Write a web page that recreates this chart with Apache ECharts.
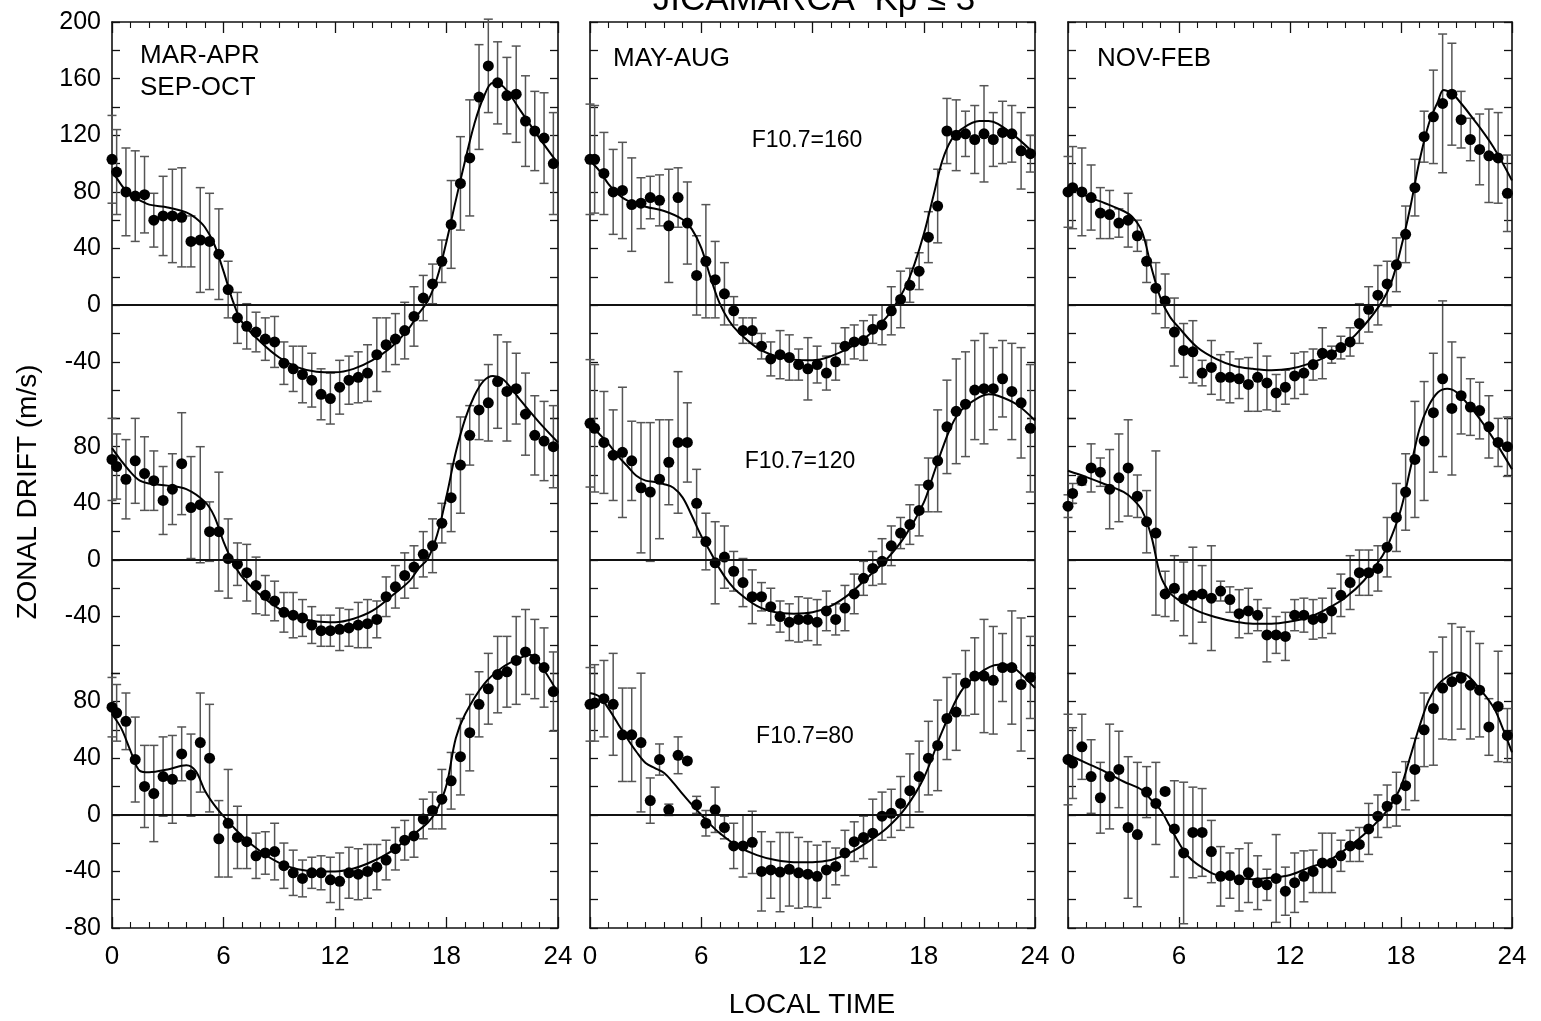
<!DOCTYPE html>
<html><head><meta charset="utf-8">
<script src="https://cdn.jsdelivr.net/npm/echarts@6/dist/echarts.min.js"></script>
<style>html,body{margin:0;padding:0;background:#fff}#c{width:1541px;height:1021px}</style>
</head><body><div id="c"></div>
<script>
// ---------- DATA ----------
const HOURS = [0,0.25,0.75,1.25,1.75,2.25,2.75,3.25,3.75,4.25,4.75,5.25,5.75,6.25,6.75,7.25,7.75,8.25,8.75,9.25,9.75,10.25,10.75,11.25,11.75,12.25,12.75,13.25,13.75,14.25,14.75,15.25,15.75,16.25,16.75,17.25,17.75,18.25,18.75,19.25,19.75,20.25,20.75,21.25,21.75,22.25,22.75,23.25,23.75];
const X_TICKS = [0,6,12,18,24];
const Y_LABELS_TOP = [-40,0,40,80,120,160,200];
const Y_LABELS_MID = [-40,0,40,80];
const Y_LABELS_BOT = [-80,-40,0,40,80];

// MAR-APR / SEP-OCT
const EQ_160 = [103,94,80,77,78,60,63,63,62,45,46,45,36,11,-9,-15,-19,-24,-26,-41,-45,-49,-53,-63,-66,-58,-53,-51,-48,-35,-28,-24,-18,-8,5,15,31,57,86,104,147,169,157,148,149,130,123,118,100];
const EQ_160_ERR = [31,30,31,32,27,19,28,33,35,18,37,34,32,20,18,16,14,15,18,15,16,20,19,18,18,19,17,18,20,26,19,18,20,21,16,14,15,31,33,41,37,33,29,27,34,32,28,32,36];
const EQ_160_FIT = [[0,95],[0.5,85],[1,77],[1.5,74],[2,71],[3,69],[4,65.5],[4.5,61.5],[5,55],[5.5,43],[6,24],[6.5,3],[7,-12],[8,-26],[9,-37],[10,-44],[11,-47],[12,-47.5],[13,-45],[14,-39],[15,-30],[16,-16],[16.5,-6],[17,3],[17.5,19.5],[18,45],[18.5,74],[19,102],[19.5,128],[20,147],[20.5,157],[21,155],[21.5,147],[22,137],[23,118],[24,100]];
const EQ_120 = [71,66,57,70,61,56,42,50,68,37,39,20,20,1,-3,-9,-18,-25,-29,-37,-39,-41,-46,-50,-50,-49,-48,-46,-45,-42,-26,-19,-11,-5,4,10,26,44,67,88,106,111,126,119,121,103,88,84,80];
const EQ_120_ERR = [29,23,28,30,26,21,24,25,36,36,41,21,42,28,15,20,20,14,14,14,16,13,13,11,11,15,13,16,17,13,14,15,16,15,16,19,14,24,34,21,21,27,33,35,25,29,28,28,29];
const EQ_120_FIT = [[0,79],[0.5,70],[1,62],[1.5,56],[2,54],[3,52.5],[4,50],[5,41],[5.5,31],[6,13],[6.5,-1.5],[7,-12],[8,-25],[9,-34.5],[10,-40.5],[11,-43.5],[12,-44],[13,-41.5],[14,-36],[15,-26],[16,-15],[16.5,-6],[17,1],[17.5,18],[18,45],[18.5,76],[19,99.5],[19.5,116],[20,126.5],[20.5,130],[21,128],[21.5,121],[22,112.5],[23,97],[24,83]];
const EQ_80 = [76,72,66,39,20,15,27,25,43,28,51,40,-17,-6,-16,-19,-29,-27,-26,-36,-41,-45,-41,-41,-46,-47,-41,-42,-40,-37,-32,-24,-18,-15,-3,3,11,24,41,58,78,89,99,101,109,115,110,104,87];
const EQ_80_ERR = [21,20,20,30,29,34,28,31,19,29,35,38,27,38,22,19,16,15,20,16,16,13,11,12,16,20,18,18,19,16,14,15,14,15,14,13,21,20,27,27,23,25,27,25,31,30,28,28,28];
const EQ_80_FIT = [[0,71],[0.5,61],[1,45],[1.5,31],[2,30],[3,32],[4,35],[4.5,31],[5,17],[5.5,7],[6,-1],[7,-15],[8,-26],[9,-34],[10,-38.5],[11,-40],[12,-40],[13,-38],[14,-33],[15,-26],[16,-16],[17,-5.5],[17.5,4],[18,21],[18.5,54],[19,71],[20,92],[21,104],[22,111],[22.5,113],[23,107],[24,86]];

// MAY-AUG
const JS_160 = [103,103,93,80,81,71,72,76,74,56,76,58,21,31,18,8,-4,-18,-18,-29,-38,-35,-37,-42,-45,-42,-48,-40,-29,-26,-25,-17,-14,-4,4,14,24,48,70,123,120,121,117,121,117,122,121,109,107];
const JS_160_ERR = [39,38,29,30,34,33,18,15,18,40,21,29,28,40,27,22,10,9,9,9,12,17,16,11,22,13,12,13,13,12,14,10,14,17,20,12,13,18,26,23,25,16,24,34,19,22,20,27,13];
const JS_160_FIT = [[0,102],[0.5,95],[1,85.5],[1.5,78.5],[2,74],[3,69.5],[4,66.5],[5,60.5],[5.5,53.5],[6,40.5],[6.5,19.5],[7,1],[7.5,-11],[8,-19],[9,-30],[10,-36],[11,-38.5],[12,-39],[13,-36],[14,-30],[15,-21.5],[16,-8.5],[16.5,1],[17,12.5],[17.5,29],[18,50],[18.5,76],[19,102],[19.5,117],[20,124],[21,130],[21.5,130],[22,128],[23,118.5],[24,106.5]];
const JS_120 = [96.5,93,83,74,76,70,51,48,57,69,83,83,40,13,-2,2,-8,-16,-26,-26,-33,-40,-44,-42,-42,-44,-36,-42,-34,-24,-13,-6,-1,10,19,25,35,53,70,94,105,110,120,121,121,128,119,111,93];
const JS_120_ERR = [45,45,36,32,46,28,46,49,42,30,50,28,24,20,29,22,14,17,19,10,13,11,13,16,15,16,14,11,16,14,12,12,16,14,11,14,18,19,36,33,37,37,35,39,29,27,34,39,45];
const JS_120_FIT = [[0,95],[0.5,89],[1,82],[1.5,73.5],[2,66.5],[2.5,59.5],[3,56],[3.5,55],[4,53.5],[4.5,51],[5,44],[5.5,31],[6,17],[6.5,5.5],[7,-6.5],[7.5,-16],[8,-23],[9,-32.5],[10,-37],[11,-38],[12,-37],[13,-32.5],[14,-24],[15,-12],[16,0.5],[17,17],[18,40.5],[18.5,59.5],[19,78.5],[19.5,95],[20,105.5],[21,115],[21.5,117],[22,116],[23,110],[24,98.5]];
const JS_80 = [78,79,82,78,56.5,56.5,51,10,39,3.5,42,38,7,-6,3.5,-9,-22,-22,-19.5,-40,-39,-40.5,-38.5,-41,-42,-43.5,-39,-36.5,-27,-19,-16,-13,-1,1,8,17,27,40,49,68,72.5,93,98,98,95,104,104,92,97];
const JS_80_ERR = [26,27,27,36,33,33,49,16,11,4,13,2,6,9,16,8,16,22,22,28,20,28,26,25,23,22,20,13,16,14,15,24,17,17,19,26,25,26,32,29,27,23,27,40,38,24,40,47,29];
const JS_80_FIT = [[0,86],[0.5,83.5],[1,75],[1.5,64.5],[2,54],[2.5,44.5],[3,36.5],[3.5,33],[4,29.5],[4.5,22.5],[5,14.5],[5.5,7],[6,0],[6.5,-7],[7,-13],[8,-22.5],[9,-28.5],[10,-32],[11,-33.5],[12,-33.5],[13,-32],[14,-27],[15,-19],[16,-9.5],[17,4.5],[18,26],[19,59],[20,87],[21,100],[22,106],[22.5,106],[23,102.5],[24,89.5]];

// NOV-FEB
const DS_160 = [80,83,80,76,65,64,58,60,49,31,12,3,-19,-32,-33,-48,-44,-51,-51,-52,-56,-51,-55,-62,-58,-50,-48,-42,-34,-35,-30,-26,-13,-3,7,15,28.5,50,83,119,133,142.5,149,131,117,110,105.5,104,79];
const DS_160_ERR = [25,29,31,23,18,17,10,19,11,15,18,19,24,19,22,9,19,16,18,14,19,24,19,13,12,16,15,11,18,6,8,10,14,16,21,16,19,20,20,18,33,49,36,20,15,25,33,32,27];
const DS_160_FIT = [[0,83],[0.5,81],[1,77],[2,72],[3,66.5],[3.5,62],[4,52],[4.5,27],[5,5],[5.5,-8],[6,-16],[7,-30],[8,-38],[9,-43],[10,-45],[11,-46],[12,-45],[13,-41.5],[14,-36],[15,-27.5],[16,-14.5],[17,3],[17.5,17],[18,40.5],[18.5,69],[19,102],[19.5,128],[20,144],[20.3,152],[20.7,150],[21,146.5],[22,130],[23,111.5],[24,88]];
const DS_120 = [38,47,56,65,62,50,58,65,45,27,19,-24,-20,-27.5,-25,-24,-27,-22,-28,-38,-36,-39,-53,-53,-54,-39,-39,-42,-41,-36,-25,-16,-9,-9,-6,9,30,48,71,84,104,128,107,116,108,105.5,94,83,80];
const DS_120_ERR = [8,7,3,17,10,28,31,34,15,22,58,16,23,26,34,20,37,7,9,17,16,11,19,13,17,11,12,14,14,16,15,19,16,16,16,21,24,27,41,42,42,55,47,27,20,20,22,17,21];
const DS_120_FIT = [[0,63],[1,58.5],[2,53.5],[3,48],[3.5,43],[4,35],[4.5,17],[5,-11],[5.5,-23],[6,-28.5],[7,-36],[8,-40.5],[9,-43.5],[10,-45],[11,-45],[12,-43.5],[13,-40.5],[14,-34.5],[15,-26.5],[16,-14.5],[17,3],[17.5,17],[18,36],[18.5,64],[19,92.5],[19.5,109],[20,118.5],[20.5,121],[21,118.5],[22,104],[23,85.5],[24,64]];
const DS_80 = [39,36.5,48,27,12,27,32,-9,-14,16,8,16.5,-10,-27,-12.5,-12.5,-26,-43.5,-43,-46,-41,-48,-49.5,-45,-54,-48,-43.5,-40,-34,-34,-29,-22,-21,-10,-1,6,11,20.5,32,60,75,89.5,94,96.5,91.5,88,62,76.5,56];
const DS_80_ERR = [32,25,23,26,25,37,27,50,51,18,29,2,34,50,32,31,22,21,16,22,21,19,11,31,17,21,18,15,21,21,11,11,12,18,15,15,19,17,22,26,40,36,41,36,38,33,20,39,19];
const DS_80_FIT = [[0,42.5],[1,36.5],[2,30.5],[3,23.5],[4,17.5],[4.5,10.5],[5,3.5],[5.5,-8],[6,-20],[6.5,-29.5],[7,-35],[8,-42.5],[9,-44.5],[10,-45.5],[11,-44.5],[12,-42.5],[13,-37.5],[14,-33],[15,-24.5],[16,-14],[17,-1],[17.5,8],[18,20],[18.5,41],[19,62.5],[19.5,81],[20,92],[20.5,97.5],[21,100.5],[21.5,99],[22,93],[23,76],[23.5,61],[24,44]];

const SEASON_LABELS = [['MAR-APR','SEP-OCT'],['MAY-AUG'],['NOV-FEB']];
const FLUX_LABELS = ['F10.7=160','F10.7=120','F10.7=80'];
const TITLE = 'JICAMARCA  Kp \u2264 3';
const Y_NAME = 'ZONAL DRIFT (m/s)';
const X_NAME = 'LOCAL TIME';

// ---------- LAYOUT ----------
const PLOT_TOP = 22, PLOT_BOTTOM = 928;
const U = (PLOT_BOTTOM - PLOT_TOP) / 640; // px per m/s
const PANEL_LEFT = [112, 590, 1068];
const PANEL_RIGHT = [558, 1035, 1512];
const ROWS = [
  {min:-80, max:200, labels:Y_LABELS_TOP},
  {min:-80, max:100, labels:Y_LABELS_MID},
  {min:-80, max:100, labels:Y_LABELS_BOT}
];
const SUB = [
  [EQ_160, EQ_160_ERR, EQ_160_FIT],[EQ_120, EQ_120_ERR, EQ_120_FIT],[EQ_80, EQ_80_ERR, EQ_80_FIT],
  [JS_160, JS_160_ERR, JS_160_FIT],[JS_120, JS_120_ERR, JS_120_FIT],[JS_80, JS_80_ERR, JS_80_FIT],
  [DS_160, DS_160_ERR, DS_160_FIT],[DS_120, DS_120_ERR, DS_120_FIT],[DS_80, DS_80_ERR, DS_80_FIT]
];

const FONT = '"Liberation Sans", Arial, Helvetica, sans-serif';
const grids = [], xAxes = [], yAxes = [], series = [];
let rowTop = PLOT_TOP;
const rowTops = [];
ROWS.forEach(r => { rowTops.push(rowTop); rowTop += (r.max - r.min) * U; });

for (let p = 0; p < 3; p++) {
  for (let r = 0; r < 3; r++) {
    const g = p * 3 + r;
    const row = ROWS[r];
    grids.push({left: PANEL_LEFT[p], width: PANEL_RIGHT[p] - PANEL_LEFT[p], top: rowTops[r],
      height: (row.max - row.min) * U, containLabel: false, outerBoundsMode: 'none'});
    xAxes.push({
      gridIndex: g, type: 'value', min: 0, max: 24, interval: 6,
      show: r !== 1, position: r === 0 ? 'top' : 'bottom',
      axisLine: {show: true, onZero: false, lineStyle: {color: '#111', width: 1.6}},
      axisTick: {show: true, inside: true, length: 11, lineStyle: {color: '#111', width: 1.3}},
      minorTick: {show: true, splitNumber: 6, length: 6, lineStyle: {color: '#111', width: 1.1}},
      axisLabel: {show: r === 2, color: '#000', fontSize: 26, fontFamily: FONT, margin: 16,
        formatter: v => X_TICKS.includes(v) ? String(v) : ''},
      splitLine: {show: false}
    });
    const yBase = {
      gridIndex: g, type: 'value', min: row.min, max: row.max, interval: 20,
      axisLine: {show: true, onZero: false, lineStyle: {color: '#111', width: 1.6}},
      axisTick: {show: true, inside: true, length: 8, lineStyle: {color: '#111', width: 1.3}},
      splitLine: {show: false}
    };
    yAxes.push(Object.assign({}, yBase, {position: 'left',
      axisLabel: {show: p === 0, color: '#000', fontSize: 25, fontFamily: FONT, margin: 11,
        showMinLabel: true, showMaxLabel: true,
        formatter: v => row.labels.includes(v) ? String(v) : ''}}));
    yAxes.push(Object.assign({}, yBase, {position: 'right', axisLabel: {show: false}}));

    const [vals, errs, fit] = SUB[g];
    series.push({
      type: 'custom', xAxisIndex: g, yAxisIndex: 2 * g, clip: false, silent: true, z: 2,
      data: HOURS.map((h, i) => [h, vals[i] - errs[i], vals[i] + errs[i]]),
      encode: {x: 0, y: [1, 2]},
      renderItem: (params, api) => {
        const x = api.value(0);
        const lo = api.coord([x, api.value(1)]);
        const hi = api.coord([x, api.value(2)]);
        const w = 4.5, st = {stroke: '#555', lineWidth: 1.5};
        return {type: 'group', children: [
          {type: 'line', shape: {x1: lo[0], y1: lo[1], x2: hi[0], y2: hi[1]}, style: st},
          {type: 'line', shape: {x1: lo[0] - w, y1: lo[1], x2: lo[0] + w, y2: lo[1]}, style: st},
          {type: 'line', shape: {x1: hi[0] - w, y1: hi[1], x2: hi[0] + w, y2: hi[1]}, style: st}
        ]};
      }
    });
    series.push({
      type: 'line', xAxisIndex: g, yAxisIndex: 2 * g, clip: false, silent: true, z: 3,
      data: fit, smooth: 0.35, showSymbol: false, symbol: 'none',
      lineStyle: {color: '#000', width: 2},
      markLine: {silent: true, symbol: ['none', 'none'], label: {show: false},
        lineStyle: {color: '#111', width: 1.8, type: 'solid'}, data: [{yAxis: 0}]}
    });
    series.push({
      type: 'scatter', xAxisIndex: g, yAxisIndex: 2 * g, clip: false, silent: true, z: 4,
      data: HOURS.map((h, i) => [h, vals[i]]), symbolSize: 11,
      itemStyle: {color: '#000', opacity: 1}
    });
  }
}

function txt(text, x, y, size, align, extra) {
  return Object.assign({type: 'text', x: x, y: y, silent: true, z: 10,
    style: {text: text, font: size + 'px ' + FONT, fill: '#000',
      align: align, textAlign: align, verticalAlign: 'middle', textVerticalAlign: 'middle'}}, extra || {});
}

const graphics = [
  txt(TITLE, 814, 0, 35, 'center'),
  txt(SEASON_LABELS[0][0], 140, 56, 26, 'left'),
  txt(SEASON_LABELS[0][1], 140, 88, 26, 'left'),
  txt(SEASON_LABELS[1][0], 613, 59, 26, 'left'),
  txt(SEASON_LABELS[2][0], 1097, 59, 26, 'left'),
  txt(FLUX_LABELS[0], 807, 141, 23, 'center'),
  txt(FLUX_LABELS[1], 800, 462, 23, 'center'),
  txt(FLUX_LABELS[2], 805, 737, 23, 'center'),
  txt(X_NAME, 812, 1005, 28, 'center'),
  txt(Y_NAME, 28, 492, 28, 'center', {rotation: Math.PI / 2})
];

const chart = echarts.init(document.getElementById('c'), null, {renderer: 'canvas'});
chart.setOption({
  animation: false,
  backgroundColor: '#fff',
  grid: grids, xAxis: xAxes, yAxis: yAxes, series: series,
  graphic: {elements: graphics}
});
</script></body></html>
